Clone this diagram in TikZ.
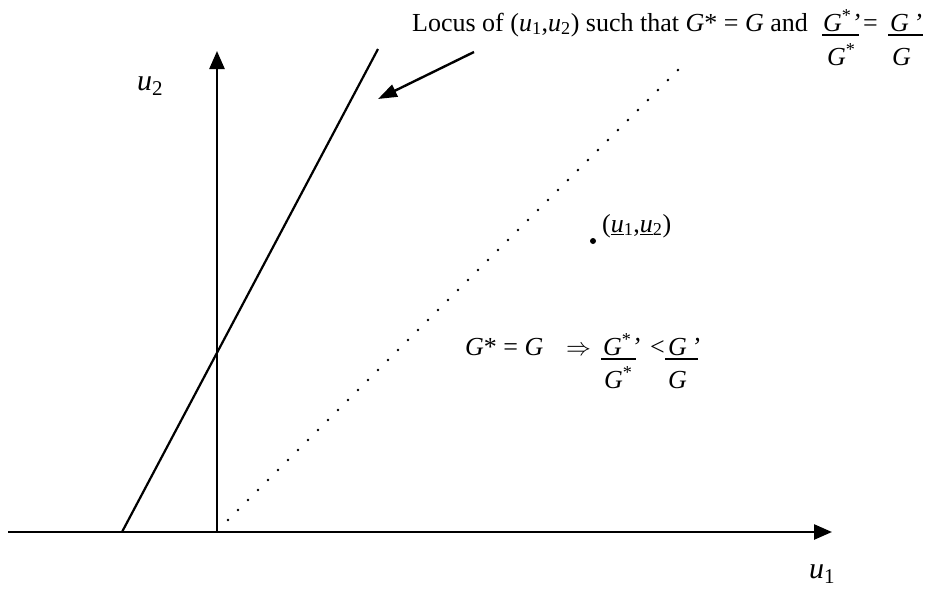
\documentclass[tikz,border=0pt]{standalone}
\usepackage{fontspec}
\setmainfont{Liberation Serif}
\usetikzlibrary{arrows.meta}
\newcommand{\vi}[1]{\textit{#1}}
\tikzset{
  axis/.style={line width=2.5pt,-{Triangle[length=18pt,width=15pt]}},
  locus/.style={line width=2.2pt},
  pointer/.style={line width=2.4pt,-{Triangle[length=19pt,width=13pt]}},
  dots/.style={line width=2.8pt,dash pattern=on 0pt off 14.14pt,line cap=round},
  txt/.style={anchor=base west,inner sep=0pt,font=\fontsize{26}{30}\selectfont},
  lbl/.style={anchor=base west,inner sep=0pt,font=\fontsize{30}{34}\selectfont},
  fracrule/.style={line width=2.2pt},
}
\begin{document}
\begin{tikzpicture}[x=1pt,y=-1pt]
\useasboundingbox (0,0) rectangle (929,592);
% axes
\coordinate (o) at (217,532);
\coordinate (xs) at (8,532);
\coordinate (xe) at (832,532);
\coordinate (ye) at (217,51);
\draw[axis] (xs) -- (xe);
\draw[axis] (o) -- (ye);
% locus line
\coordinate (la) at (122,532);
\coordinate (lb) at (378,49);
\draw[locus] (la) -- (lb);
% dotted line
\coordinate (da) at (228,520);
\coordinate (db) at (678,70);
\draw[dots] (da) -- (db);
% pointer arrow
\coordinate (pa) at (474,52);
\coordinate (pb) at (378,99);
\draw[pointer] (pa) -- (pb);
% axis labels
\node[lbl] (u2) at (137,90) {\vi{u}\textsubscript{2}};
\node[lbl] (u1) at (809,578) {\vi{u}\textsubscript{1}};
% point
\fill (593,241) circle (3pt) coordinate (pt);
\node[txt] (ptl) at (602,232) {(\underline{\vi{u}}\textsubscript{1},\underline{\vi{u}}\textsubscript{2})};
% top text
\node[txt] (top) at (412,31) {Locus of (\vi{u}\textsubscript{1},\vi{u}\textsubscript{2}) such that \vi{G}* = \vi{G} and};
\node[txt] (n1) at (823,31) {\vi{G}\textsuperscript{*}\vi{’}};
\coordinate (r1a) at (822,35); \coordinate (r1b) at (859,35);
\draw[fracrule] (r1a) -- (r1b);
\node[txt] (eq1) at (863,31) {=};
\node[txt] (n2) at (890,31) {\vi{G}\,\vi{’}};
\coordinate (r2a) at (888,35); \coordinate (r2b) at (923,35);
\draw[fracrule] (r2a) -- (r2b);
\node[txt] (d1) at (827,65) {\vi{G}\textsuperscript{*}};
\node[txt] (d2) at (892,65) {\vi{G}};
% middle text
\node[txt] (mid) at (465,355) {\vi{G}* = \vi{G}};
\node[txt] (impl) at (566,355) {$\Rightarrow$};
\node[txt] (n3) at (603,355) {\vi{G}\textsuperscript{*}\vi{’}};
\coordinate (r3a) at (601,359); \coordinate (r3b) at (636,359);
\draw[fracrule] (r3a) -- (r3b);
\node[txt] (lt) at (650,355) {<};
\node[txt] (n4) at (668,355) {\vi{G}\,\vi{’}};
\coordinate (r4a) at (665,359); \coordinate (r4b) at (698,359);
\draw[fracrule] (r4a) -- (r4b);
\node[txt] (d3) at (604,388) {\vi{G}\textsuperscript{*}};
\node[txt] (d4) at (668,388) {\vi{G}};
\end{tikzpicture}
\end{document}
